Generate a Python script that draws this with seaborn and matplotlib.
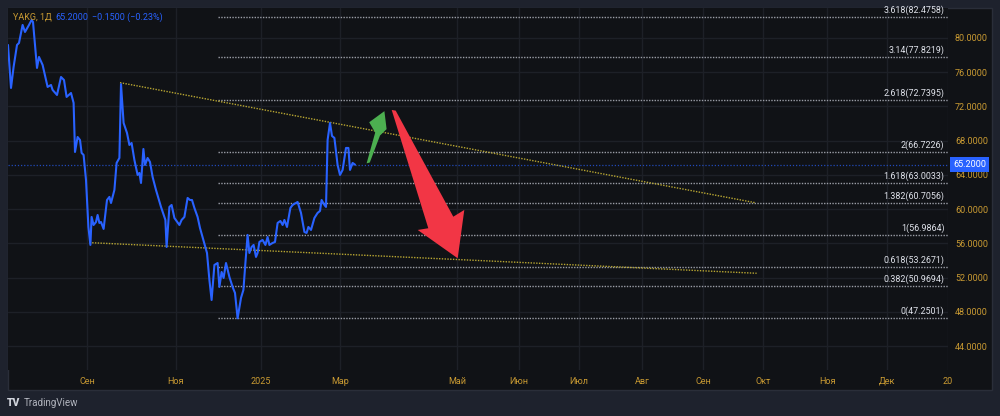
import matplotlib
matplotlib.use('Agg')
import matplotlib.pyplot as plt
import matplotlib.transforms as mtransforms
from matplotlib.patches import Rectangle
import seaborn as sns
import pandas as pd

# --- price series (bar index, close) ---
bar_index = [0, 1.5, 2.8, 4.5, 5.5, 7.3, 8.5, 10.5, 11.8, 12.5,
             14.5, 15.5, 17.3, 19.8, 21.5, 22.3, 24.5, 26.5, 28, 29.3,
             31.5, 32.8, 33.5, 34.8, 36, 36.8, 37.8, 39, 40.2, 41.2,
             41.8, 42.8, 44, 44.8, 45.7, 46.5, 47.8, 49.5, 50.7, 51.5,
             53.2, 54.3, 55.7, 56.5, 57.8, 59.5, 60.7, 61.8, 63.2, 64.8,
             65.7, 66.5, 67.7, 68.5, 69.8, 71, 72.3, 74, 76.5, 78.7,
             79.3, 80.7, 81.8, 83.2, 85.7, 86.8, 88.2, 89.8, 91, 92,
             93.2, 94.8, 96, 97.7, 99.5, 100.7, 101.8, 103.2, 104.8, 105.7,
             106.8, 107.8, 109, 110.7, 112.3, 113.5, 114.8, 116.5, 117.7, 118.7,
             119.8, 120.7, 121.8, 122.8, 124, 124.8, 125.7, 127.3, 128.7, 129.8,
             130.7, 132.3, 133.5, 134.8, 136.2, 137.3, 138.2, 139.5, 141.2, 142.3,
             144.8, 146.5, 148.2, 149.3, 150.2, 151.5, 153.2, 154.8, 156, 156.8,
             158.2, 159, 159.8, 161, 162, 163.2, 164.8, 166, 167.3, 169,
             170.2, 171, 172.3, 173.5]
close = [79.18, 74.16, 76.61, 79.18, 79.42, 81.52, 80.70, 81.52, 82.10, 81.87,
         76.50, 77.78, 76.85, 74.28, 74.51, 73.93, 73.34, 75.44, 75.09, 73.11,
         73.57, 72.41, 66.68, 68.43, 68.08, 66.57, 66.33, 63.41, 57.92, 55.82,
         59.09, 58.15, 58.50, 59.32, 58.39, 58.50, 57.69, 61.07, 61.43, 60.72,
         62.24, 65.40, 65.98, 74.60, 70.07, 68.90, 67.50, 67.73, 65.75, 64.00,
         64.23, 63.06, 67.03, 65.16, 65.98, 65.51, 63.76, 62.24, 60.26, 58.74,
         55.58, 60.26, 60.49, 58.97, 58.15, 58.74, 59.09, 61.31, 61.07, 61.07,
         60.14, 59.09, 57.80, 56.40, 54.88, 51.73, 49.39, 53.48, 53.71, 50.91,
         52.66, 51.96, 53.71, 52.08, 50.91, 50.21, 47.25, 49.63, 50.56, 53.71,
         56.99, 54.88, 55.58, 55.82, 54.42, 54.88, 56.17, 56.40, 55.82, 56.75,
         55.82, 56.05, 56.17, 58.39, 58.62, 58.15, 58.74, 57.92, 60.14, 60.49,
         60.84, 59.56, 57.34, 57.22, 57.92, 57.57, 58.97, 59.56, 59.79, 61.07,
         60.49, 60.26, 68.08, 70.07, 68.55, 68.32, 65.16, 64.00, 64.58, 67.15,
         67.15, 64.58, 65.40, 65.20]

last_price = 65.20

# --- fibonacci extension levels ---
fib_start = 105
fib_ratios = ['3.618', '3.14', '2.618', '2', '1.618', '1.382', '1', '0.618', '0.382', '0']
fib_prices = [82.4758, 77.8219, 72.7395, 66.7226, 63.0033, 60.7056, 56.9864, 53.2671, 50.9694, 47.2501]

# --- trend lines drawn on the chart ---
upper_trend_x = [56, 373.5]
upper_trend_y = [74.78, 60.76]
lower_trend_x = [40.7, 374.3]
lower_trend_y = [56.09, 52.51]

# --- hand drawn arrows (data coords) ---
green_arrow_x = [179.3, 183.6, 180.6, 188.2, 189.3, 186.0, 180.9]
green_arrow_y = [65.35, 68.95, 70.15, 71.45, 69.35, 68.60, 65.45]
red_arrow_x = [191.85, 210.15, 204.85, 224.85, 228.15, 222.65, 193.85]
red_arrow_y = [71.59, 57.77, 57.57, 54.26, 59.91, 59.12, 71.51]

# --- axes ---
x_tick_pos = [39.5, 84, 126.5, 166, 224.5, 255.5, 285.5, 317, 347.5, 377.5, 409.5, 439.5, 470]
x_tick_labels = ['Сен', 'Ноя', '2025', 'Мар', 'Май', 'Июн', 'Июл', 'Авг', 'Сен', 'Окт', 'Ноя', 'Дек', '20']
y_ticks = [44, 48, 52, 56, 60, 64, 68, 72, 76, 80]

df = pd.DataFrame({'bar': bar_index, 'close': close})

sns.set_theme(style='dark')
plt.rcParams['font.family'] = ['Roboto', 'DejaVu Sans']

OUTER = '#1e222d'
BG = '#101216'
GRID = '#1d2027'
GOLD = '#c99a32'
BLUE = '#2962ff'
TXT = '#e0e3eb'

fig = plt.figure(figsize=(10, 4.16), dpi=100, facecolor=OUTER)
panel = Rectangle((0.008, 26 / 416), 0.984, 382 / 416, transform=fig.transFigure,
                  facecolor=BG, edgecolor='#2a2e39', lw=1, zorder=-10)
fig.add_artist(panel)
ax = fig.add_axes([0.008, 46 / 416, 0.94, 362 / 416])
ax.set_zorder(1)
ax.set_facecolor(BG)

# grid
for xp in x_tick_pos:
    ax.axvline(xp, color=GRID, lw=1, zorder=0)
for yp in y_ticks:
    ax.axhline(yp, color=GRID, lw=1, zorder=0)

# fib lines + labels
ax.hlines(fib_prices, fib_start, 470, colors='#9a9da6', linestyles=(0, (1, 1)), lw=1, zorder=2)
for r, p in zip(fib_ratios, fib_prices):
    ax.annotate(f'{r}({p:.4f})', xy=(468.2, p), xytext=(0, 1.5), textcoords='offset points',
                ha='right', va='bottom', color=TXT, fontsize=6.4, zorder=5, annotation_clip=False)

# last price line
ax.axhline(last_price, color=BLUE, lw=0.9, linestyle=(0, (1, 1.5)), alpha=0.7, zorder=1)

# trend lines
ax.plot(upper_trend_x, upper_trend_y, color='#b8a632', lw=1, linestyle=(0, (1, 1)), zorder=3)
ax.plot(lower_trend_x, lower_trend_y, color='#b8a632', lw=1, linestyle=(0, (1, 1)), zorder=3)

# price
sns.lineplot(data=df, x='bar', y='close', ax=ax, color=BLUE, lw=1.5, estimator=None, sort=False, zorder=4)

# arrows
ax.fill(green_arrow_x, green_arrow_y, color='#4caf50', lw=0, zorder=6)
ax.fill(red_arrow_x, red_arrow_y, color='#f23645', lw=0, zorder=6)

ax.set_xlim(0, 470)
ax.set_ylim(41.21, 83.5)
ax.set_xlabel('')
ax.set_ylabel('')
ax.grid(False)
for s in ax.spines.values():
    s.set_visible(False)

ax.yaxis.tick_right()
ax.set_yticks(y_ticks)
ax.set_yticklabels([f'{v:.4f}' for v in y_ticks])
ax.set_xticks(x_tick_pos)
ax.set_xticklabels(x_tick_labels)
ax.tick_params(axis='y', length=0, pad=5, labelsize=6.5, labelcolor=GOLD)
ax.tick_params(axis='x', length=0, pad=5, labelsize=6.5, labelcolor=GOLD)

# last price tag
trans = mtransforms.blended_transform_factory(ax.transAxes, ax.transData)
ax.text(1.0055, last_price, f'{last_price:.4f}', transform=trans, ha='left', va='center',
        color='white', fontsize=6.5, zorder=10, clip_on=False,
        bbox=dict(boxstyle='square,pad=0.3', fc=BLUE, ec='none'))

# header legend
fig.text(13 / 1000, 1 - 17 / 416, 'YAKG, 1Д', color=GOLD, fontsize=6.5, va='center')
fig.text(55 / 1000, 1 - 17 / 416, '65.2000', color=BLUE, fontsize=6.5, va='center')
fig.text(92 / 1000, 1 - 17 / 416, '−0.1500 (−0.23%)', color=BLUE, fontsize=6.5, va='center')

# watermark
fig.text(7 / 1000, 1 - 403 / 416, 'TV', color='#d1d4dc', fontsize=7.5, fontweight='black', va='center')
fig.text(24 / 1000, 1 - 403 / 416, 'TradingView', color='#b2b5be', fontsize=7, va='center')

fig.savefig('out.png', dpi=100, facecolor=fig.get_facecolor())
